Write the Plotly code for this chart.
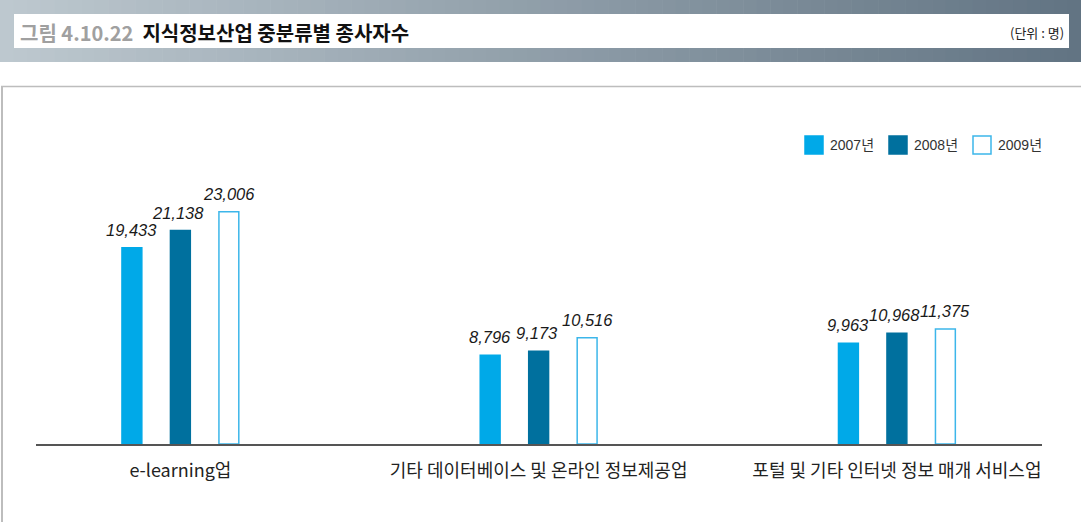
import plotly.graph_objects as go

categories = ["e-learning업", "기타 데이터베이스 및 온라인 정보제공업", "포털 및 기타 인터넷 정보 매개 서비스업"]
series_names = ["2007년", "2008년", "2009년"]
v2007 = [19433, 8796, 9963]
v2008 = [21138, 9173, 10968]
v2009 = [23006, 10516, 11375]

W, H = 1081, 522
ML, MR, MT, MB = 36, 39, 141, 78
PW, PH = W - ML - MR, H - MT - MB

def px(x):
    return (x - ML) / PW

def py(y):
    return (H - MB - y) / PH

fills = ["#00a9e8", "#00709e", "#ffffff"]
lines = ["#00a9e8", "#00709e", "#3cb6ea"]
values = [v2007, v2008, v2009]
label_dx = [-48.5, -2, 48.5]   # pixel offset of each series label within a group (style)

fig = go.Figure()
annotations = []
for name, vals, fc, lc, dx in zip(series_names, values, fills, lines, label_dx):
    fig.add_trace(go.Bar(
        x=categories, y=vals, name=name,
        marker=dict(color=fc, line=dict(color=lc, width=1.5)),
        showlegend=False, hoverinfo="x+y",
    ))
    for c, v in zip(categories, vals):
        annotations.append(dict(
            xref="x", yref="y", x=c, y=v, xshift=dx, yshift=18,
            xanchor="center", yanchor="middle", showarrow=False,
            text="<i>{:,}</i>".format(v),
            font=dict(family="Liberation Sans Narrow, Liberation Sans", size=16.5, color="#1a1a1a"),
        ))

shapes = []
# header gradient band
n = 80
c0 = (0xbd, 0xc8, 0xcf)
c1 = (0x62, 0x74, 0x83)
for i in range(n):
    t = i / (n - 1)
    c = tuple(round(a + (b - a) * t) for a, b in zip(c0, c1))
    x0 = W * i / n
    x1 = W * (i + 1) / n + 0.6
    shapes.append(dict(type="rect", xref="paper", yref="paper",
                       x0=px(x0), x1=px(x1), y0=py(62), y1=py(0),
                       fillcolor="rgb(%d,%d,%d)" % c, line=dict(width=0), layer="below"))
shapes.append(dict(type="rect", xref="paper", yref="paper",
                   x0=px(14), x1=px(1069), y0=py(48), y1=py(14),
                   fillcolor="#ffffff", line=dict(width=0), layer="below"))
# chart frame
shapes.append(dict(type="line", xref="paper", yref="paper", x0=px(1), x1=px(1085), y0=py(86.5), y1=py(86.5),
                   line=dict(color="#bdbdbd", width=1.5)))
shapes.append(dict(type="line", xref="paper", yref="paper", x0=px(2), x1=px(2), y0=py(86), y1=py(525),
                   line=dict(color="#bdbdbd", width=2)))

annotations += [
    dict(xref="paper", yref="paper", x=px(18), y=py(32), xanchor="left", yanchor="middle", showarrow=False,
         text="<b><span style='color:#a0a0a0'>그림 4.10.22</span>  지식정보산업 중분류별 종사자수</b>",
         font=dict(family="Noto Sans CJK KR", size=20, color="#111")),
    dict(xref="paper", yref="paper", x=px(1066), y=py(33), xanchor="right", yanchor="middle", showarrow=False,
         text="(단위 : 명)", font=dict(family="Noto Sans CJK KR", size=13, color="#222")),
]

# legend (manual)
leg_x = [805, 889, 973]
for name, fc, lc, lx in zip(series_names, fills, lines, leg_x):
    shapes.append(dict(type="rect", xref="paper", yref="paper",
                       x0=px(lx), x1=px(lx + 18), y0=py(154), y1=py(136),
                       fillcolor=fc, line=dict(color=lc, width=1.5)))
    annotations.append(dict(xref="paper", yref="paper", x=px(lx + 23), y=py(145), xanchor="left", yanchor="middle",
                            showarrow=False, text=name,
                            font=dict(family="Liberation Sans, Noto Sans CJK KR", size=14, color="#333")))

fig.update_layout(
    width=W, height=H,
    margin=dict(l=ML, r=MR, t=MT, b=MB),
    paper_bgcolor="white", plot_bgcolor="white",
    barmode="group", bargap=0.594, bargroupgap=0.59,
    shapes=shapes, annotations=annotations,
    xaxis=dict(type="category", range=[-0.403, 2.405], showline=True, linecolor="#555", linewidth=1.5,
               showgrid=False, zeroline=False, ticks="", ticklabelstandoff=10,
               tickfont=dict(family="Noto Sans CJK KR", size=18, color="#222")),
    yaxis=dict(range=[0, 30000], visible=False, showgrid=False, zeroline=False),
)

fig.write_html("out.html", config={"displayModeBar": False},
               post_script="document.body.style.margin='0';document.body.style.overflow='hidden';")
